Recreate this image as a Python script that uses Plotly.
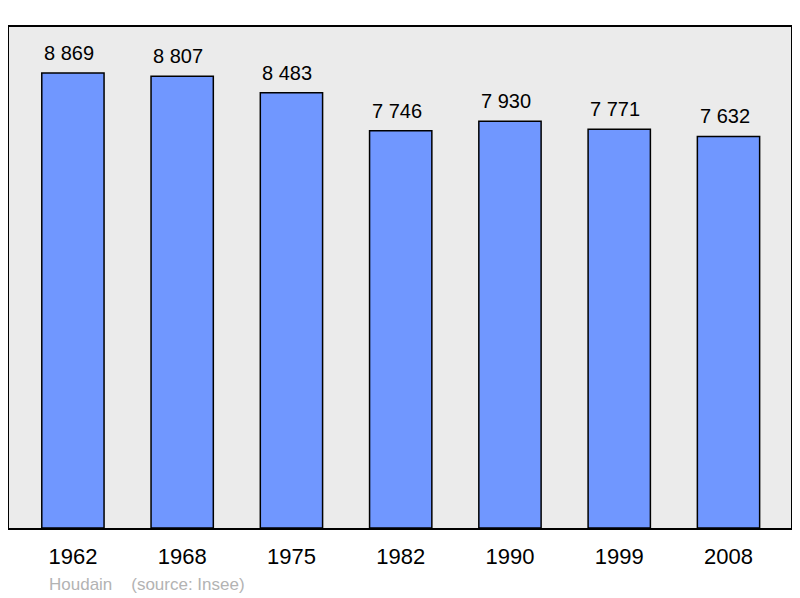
import plotly.graph_objects as go

# population of Houdain (source: Insee)
years = ["1962", "1968", "1975", "1982", "1990", "1999", "2008"]
population = [8869, 8807, 8483, 7746, 7930, 7771, 7632]
labels = ["8 869", "8 807", "8 483", "7 746", "7 930", "7 771", "7 632"]

fig = go.Figure()
fig.add_trace(go.Bar(
    x=years, y=population,
    width=0.57,
    marker=dict(color="#7097ff", line=dict(color="black", width=1.5)),
))

# value labels above the bars (x given as category index)
for i, (val, lab) in enumerate(zip(population, labels)):
    fig.add_annotation(x=i, y=val, text=lab, showarrow=False,
                       yanchor="bottom", yshift=7, xshift=-4,
                       font=dict(size=20, color="black"))

fig.update_layout(
    width=786, height=590,
    margin=dict(l=1, r=1, t=19, b=70),
    paper_bgcolor="white",
    plot_bgcolor="#ebebeb",
    showlegend=False,
    font=dict(family="Liberation Sans", color="black"),
    xaxis=dict(
        type="category", range=[-0.585, 6.572],
        showgrid=False, zeroline=False,
        tickfont=dict(size=22), ticks="", ticklabelstandoff=8,
        showline=True, linecolor="black", linewidth=2, mirror=True,
    ),
    yaxis=dict(
        range=[0, 9766], showgrid=False, zeroline=False, showticklabels=False,
        showline=True, linecolor="black", linewidth=2, mirror=True,
    ),
)

fig.add_annotation(
    text="Houdain    (source: Insee)", xref="paper", yref="paper",
    x=0.048, y=-0.112, xanchor="left", yanchor="middle", showarrow=False,
    font=dict(size=17, color="#b3b3b3"),
)

fig.write_html("out.html")
